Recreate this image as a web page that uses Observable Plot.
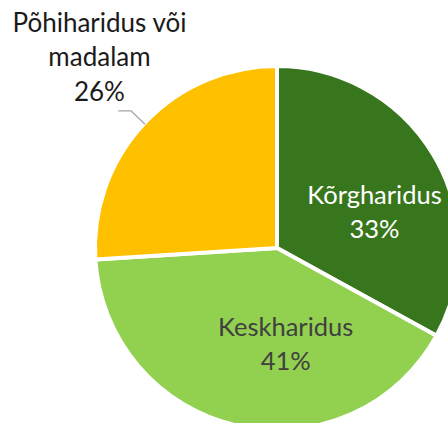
<!DOCTYPE html>
<html>
<head>
<meta charset="utf-8">
<script src="https://cdn.jsdelivr.net/npm/d3@7"></script>
<script src="https://cdn.jsdelivr.net/npm/@observablehq/plot@0.6"></script>
<style>
  html, body { margin: 0; padding: 0; background: #fff; overflow: hidden; }
  #chart svg { overflow: hidden; display: block; }
</style>
</head>
<body>
<div id="chart"></div>
<script>
// Education level shares
const categories = ["Kõrgharidus", "Keskharidus", "Põhiharidus või\nmadalam"];
const shares = [33, 41, 26];
const valueLabels = ["33%", "41%", "26%"];
const colors = ["#38761d", "#92d050", "#ffc000"];

const data = categories.map((c, i) => ({category: c, share: shares[i], label: valueLabels[i], color: colors[i]}));

// Slices start at 12 o'clock and run clockwise
const arcs = d3.pie().sort(null).value(d => d.share)(data);
const pt = (a, r) => ({x: Math.sin(a) * r, y: -Math.cos(a) * r});
const mid = a => (a.startAngle + a.endAngle) / 2;

const [aHigh, aMid, aLow] = arcs;
const labelHigh = {...pt(mid(aHigh), 0.6), text: aHigh.data.category + "\n" + aHigh.data.label};
const labelMid = {...pt(mid(aMid), 0.6), text: aMid.data.category + "\n" + aMid.data.label};
const labelLow = {...pt(mid(aLow), 1.44), text: aLow.data.category + "\n" + aLow.data.label};

// Leader line from the slice edge to the outside label
const elbow = pt(mid(aLow), 1.105);
const leader = [pt(mid(aLow), 1.0), elbow, {x: elbow.x - 0.067, y: elbow.y}];

// Pie slices drawn in pixel space from the x/y scales
function slices(...args) {
  const scales = args.find(a => a && typeof a.x === "function" && typeof a.y === "function");
  const cx = scales.x(0), cy = scales.y(0), r = scales.x(1) - scales.x(0);
  const arcGen = d3.arc().innerRadius(0).outerRadius(r);
  const g = d3.create("svg:g").attr("transform", `translate(${cx},${cy})`);
  g.selectAll("path").data(arcs).join("path")
    .attr("d", arcGen)
    .attr("fill", d => d.data.color)
    .attr("stroke", "#fff")
    .attr("stroke-width", 4)
    .attr("stroke-linejoin", "round");
  return g.node();
}

const font = "Lato, 'Open Sans', sans-serif";

const chart = Plot.plot({
  width: 448,
  height: 423,
  margin: 0,
  x: {domain: [-1, 1], range: [95, 459], axis: null},
  y: {domain: [-1, 1], range: [66, 430], axis: null},
  marks: [
    slices,
    Plot.line(leader, {x: "x", y: "y", stroke: "#a6a6a6", strokeWidth: 1.3}),
    Plot.text([labelHigh], {x: "x", y: "y", text: "text", dx: 3, dy: 17, fill: "#ffffff",
      fontSize: 25.5, fontFamily: font, lineHeight: 1.32}),
    Plot.text([labelMid], {x: "x", y: "y", text: "text", dx: 32, dy: -13, fill: "#404040",
      fontSize: 25.5, fontFamily: font, lineHeight: 1.32}),
    Plot.text([labelLow], {x: "x", y: "y", text: "text", dx: 13, dy: -14, fill: "#1a1a1a",
      fontSize: 26, fontFamily: font, lineHeight: 1.33})
  ]
});

document.getElementById("chart").append(chart);
</script>
</body>
</html>
